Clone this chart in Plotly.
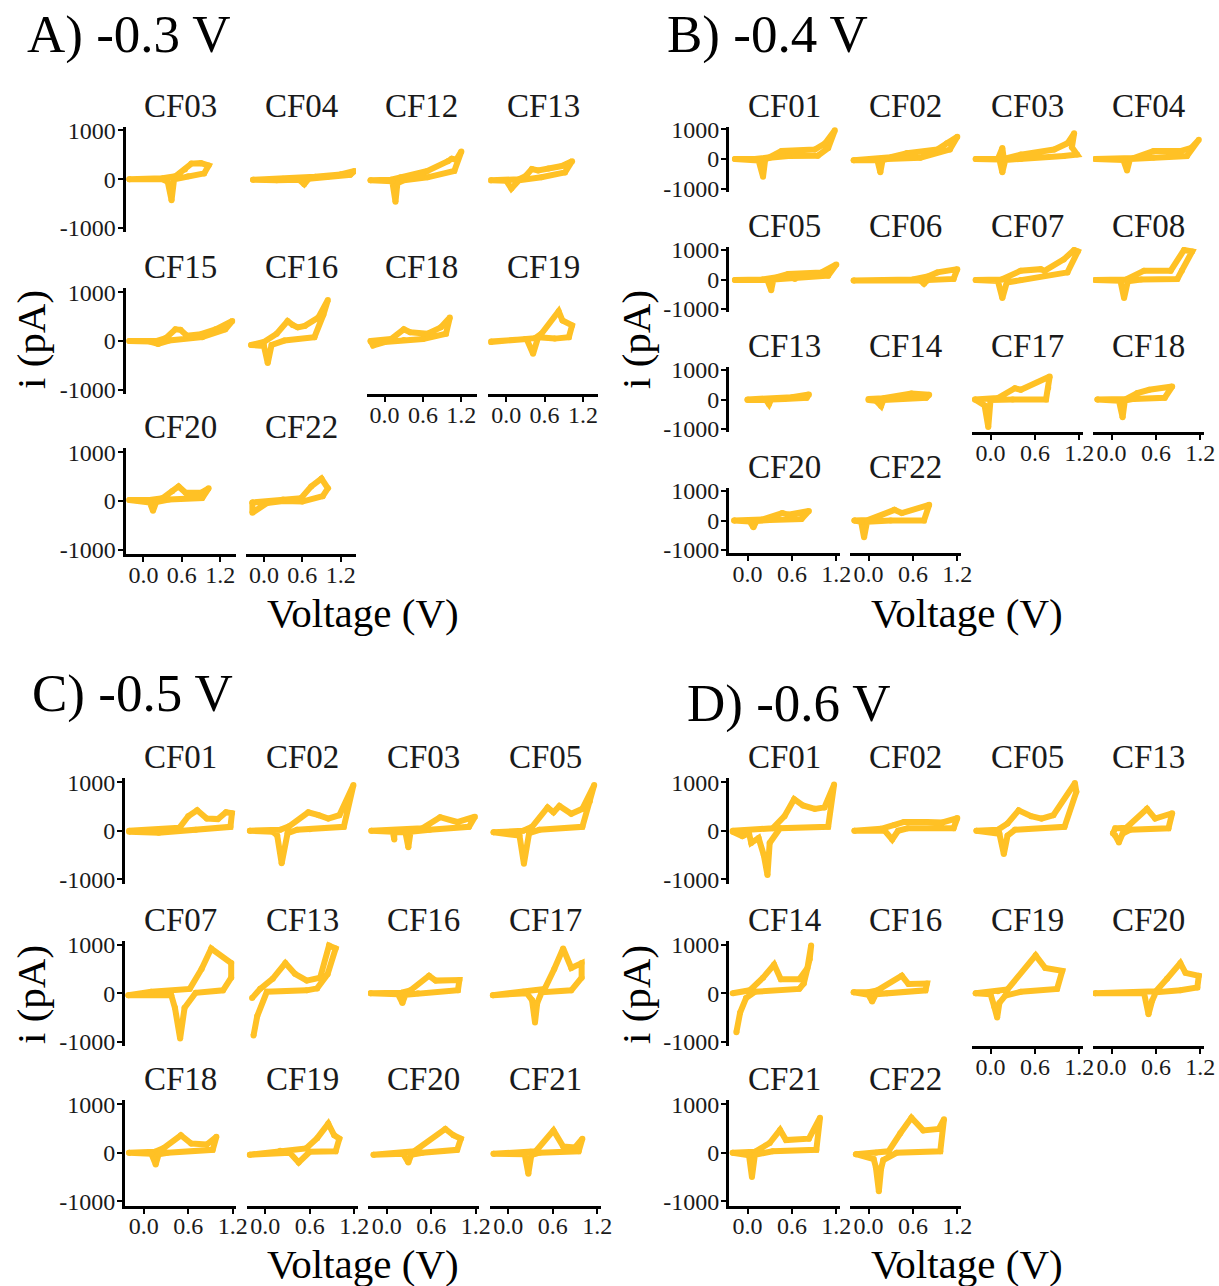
import plotly.graph_objects as go

W, H = 1219, 1286
COLOR = "#FFC125"
FONT = "Liberation Serif, Times New Roman, serif"

# ---------------- data (voltage in V, current in pA) ----------------
Y_TICKS = [-1000, 0, 1000]
Y_TICK_TEXT = ["-1000", "0", "1000"]
X_TICKS = [0.0, 0.6, 1.2]
X_TICK_TEXT = ["0.0", "0.6", "1.2"]

A_CELLS = ["CF03", "CF04", "CF12", "CF13", "CF15", "CF16", "CF18", "CF19", "CF20", "CF22"]
A_VOLT = {
    "CF03": [-0.22, 0.30, 0.50, 0.65, 0.75, 0.90, 1.02, 0.95, 0.70, 0.55, 0.48, 0.44, 0.38, 0.30, -0.22],
    "CF04": [-0.17, 0.30, 0.80, 1.20, 1.42, 1.35, 1.00, 0.70, 0.63, 0.55, 0.20, -0.17],
    "CF12": [-0.22, 0.10, 0.25, 0.67, 0.99, 1.05, 1.12, 1.20, 1.09, 0.67, 0.30, 0.20, 0.17, 0.12, -0.22],
    "CF13": [-0.24, 0.20, 0.30, 0.40, 0.50, 0.66, 0.87, 1.03, 0.92, 0.55, 0.20, 0.08, 0.00, -0.24],
    "CF15": [-0.22, 0.20, 0.35, 0.50, 0.58, 0.68, 0.90, 1.13, 1.39, 1.28, 0.92, 0.40, 0.23, 0.10, -0.22],
    "CF16": [-0.20, 0.00, 0.20, 0.37, 0.45, 0.53, 0.64, 0.85, 1.00, 0.93, 0.79, 0.32, 0.12, 0.06, 0.00, -0.20],
    "CF18": [-0.22, 0.10, 0.30, 0.40, 0.67, 0.88, 1.02, 0.96, 0.60, 0.30, 0.00, -0.18, -0.22],
    "CF19": [-0.24, 0.30, 0.45, 0.55, 0.82, 0.88, 1.03, 0.98, 0.76, 0.50, 0.42, 0.32, -0.24],
    "CF20": [-0.22, 0.10, 0.30, 0.45, 0.55, 0.66, 0.90, 1.02, 0.92, 0.40, 0.20, 0.15, 0.10, -0.22],
    "CF22": [-0.18, 0.30, 0.58, 0.74, 0.90, 1.00, 0.92, 0.60, 0.30, 0.05, -0.18, -0.18],
}
A_CURR = {
    "CF03": [0, 20, 60, 200, 320, 330, 280, 120, 60, 40, 0, -430, -50, 0, 0],
    "CF04": [-10, 10, 50, 100, 170, 90, 50, 10, -100, -10, -20, -10],
    "CF12": [-20, -10, 40, 170, 370, 420, 400, 570, 170, 40, -20, -80, -460, -40, -20],
    "CF13": [-20, 0, 60, 210, 180, 220, 270, 370, 140, 40, -20, -190, -30, -20],
    "CF15": [0, 0, 60, 240, 230, 110, 140, 240, 410, 240, 80, 10, -60, -10, 0],
    "CF16": [-80, -20, 150, 410, 330, 280, 310, 480, 840, 540, 80, 10, -80, -450, -100, -80],
    "CF18": [0, 40, 240, 180, 150, 280, 480, 150, 40, 20, -20, -90, 0],
    "CF19": [-20, 40, 60, 150, 610, 420, 320, 80, 50, 80, -260, 40, -10],
    "CF20": [20, 20, 60, 200, 300, 170, 170, 260, 60, 30, -20, -200, -30, 20],
    "CF22": [-30, 30, 60, 300, 460, 260, 100, -10, 0, -40, -240, -30],
}

B_CELLS = ["CF01", "CF02", "CF03", "CF04", "CF05", "CF06", "CF07", "CF08",
           "CF13", "CF14", "CF17", "CF18", "CF20", "CF22"]
B_VOLT = {
    "CF01": [-0.17, 0.10, 0.30, 0.46, 0.91, 1.05, 1.18, 1.09, 0.95, 0.55, 0.30, 0.24, 0.21, 0.15, -0.17],
    "CF02": [-0.20, 0.30, 0.52, 0.93, 1.06, 1.20, 1.10, 0.70, 0.25, 0.19, 0.16, 0.12, -0.20],
    "CF03": [-0.20, 0.10, 0.16, 0.18, 0.41, 0.86, 1.04, 1.13, 1.10, 1.17, 0.99, 0.41, 0.20, 0.16, 0.12, -0.20],
    "CF04": [-0.22, 0.30, 0.57, 0.93, 1.08, 1.18, 1.02, 0.57, 0.25, 0.21, 0.16, -0.22],
    "CF05": [-0.17, 0.20, 0.40, 0.55, 1.00, 1.20, 1.09, 0.64, 0.35, 0.32, 0.27, -0.17],
    "CF06": [-0.20, 0.60, 0.80, 0.93, 1.20, 1.15, 0.80, 0.75, 0.70, -0.20],
    "CF07": [-0.20, 0.15, 0.41, 0.68, 0.73, 0.99, 1.13, 1.18, 1.04, 0.41, 0.22, 0.16, 0.10, -0.20],
    "CF08": [-0.22, 0.20, 0.44, 0.80, 0.98, 1.09, 0.95, 0.89, 0.40, 0.22, 0.17, 0.12, -0.22],
    "CF13": [0.00, 0.30, 0.60, 0.83, 0.80, 0.50, 0.32, 0.29, 0.25, 0.00],
    "CF14": [0.00, 0.20, 0.58, 0.82, 0.78, 0.40, 0.20, 0.17, 0.10, 0.00],
    "CF17": [-0.21, 0.10, 0.33, 0.41, 0.80, 0.78, 0.75, 0.30, 0.00, -0.03, -0.08, -0.21],
    "CF18": [-0.19, 0.20, 0.35, 0.51, 0.82, 0.72, 0.30, 0.18, 0.15, 0.10, -0.19],
    "CF20": [-0.18, 0.20, 0.47, 0.55, 0.83, 0.73, 0.30, 0.12, 0.08, 0.03, -0.18],
    "CF22": [-0.19, 0.00, 0.35, 0.45, 0.82, 0.75, 0.30, -0.02, -0.06, -0.10, -0.19],
}
B_CURR = {
    "CF01": [0, 0, 60, 270, 320, 530, 970, 370, 110, 100, 40, 0, -600, -50, 0],
    "CF02": [-40, 60, 200, 320, 530, 750, 320, 40, 0, -40, -450, -40, -40],
    "CF03": [0, 0, 370, 0, 150, 320, 530, 870, 400, 150, 100, 0, -30, -450, -20, 0],
    "CF04": [0, 30, 270, 270, 380, 650, 100, 50, 0, -390, -30, 0],
    "CF05": [-20, 0, 80, 190, 240, 510, 130, 20, 0, -360, -20, -20],
    "CF06": [-30, 0, 100, 240, 350, 20, -20, -140, -30, -30],
    "CF07": [-20, 0, 300, 350, 290, 680, 1000, 950, 240, -20, -100, -630, -50, -20],
    "CF08": [-20, 0, 300, 300, 1000, 950, 300, 20, 0, -60, -630, -40, -20],
    "CF13": [0, 20, 80, 170, 60, 20, 0, -160, -20, -20],
    "CF14": [20, 40, 200, 160, 60, 30, -20, -220, -40, -20],
    "CF17": [0, 50, 380, 330, 780, 400, 0, 0, -20, -930, -200, 0],
    "CF18": [0, 20, 220, 330, 440, 60, 20, -40, -600, -40, 0],
    "CF20": [0, 30, 250, 200, 320, 50, 20, -20, -230, -30, 0],
    "CF22": [0, 20, 360, 250, 530, 0, 0, -40, -570, -40, 0],
}

C_CELLS = ["CF01", "CF02", "CF03", "CF05", "CF07", "CF13", "CF16", "CF17",
           "CF18", "CF19", "CF20", "CF21"]
C_VOLT = {
    "CF01": [-0.20, 0.20, 0.48, 0.60, 0.72, 0.85, 1.00, 1.11, 1.19, 1.17, 0.70, 0.20, -0.20],
    "CF02": [-0.21, 0.20, 0.32, 0.58, 0.72, 0.85, 1.00, 1.19, 1.06, 0.60, 0.43, 0.30, 0.22, 0.16, 0.10, -0.21],
    "CF03": [-0.21, 0.30, 0.48, 0.72, 0.95, 1.19, 1.11, 0.58, 0.32, 0.29, 0.25, 0.10, 0.10, 0.08, -0.21],
    "CF05": [-0.20, 0.20, 0.32, 0.53, 0.61, 0.69, 0.85, 1.00, 1.16, 1.10, 1.00, 0.42, 0.28, 0.21, 0.15, -0.20],
    "CF07": [-0.21, 0.10, 0.62, 0.78, 0.91, 1.18, 1.18, 1.07, 0.70, 0.55, 0.49, 0.42, 0.37, -0.21],
    "CF13": [-0.18, -0.07, 0.10, 0.27, 0.40, 0.56, 0.74, 0.86, 0.95, 0.84, 0.70, 0.56, 0.02, -0.11, -0.16],
    "CF16": [-0.22, 0.20, 0.32, 0.57, 0.66, 0.98, 0.96, 0.42, 0.25, 0.21, 0.15, -0.22],
    "CF17": [-0.21, 0.20, 0.49, 0.62, 0.74, 0.85, 0.99, 0.99, 0.85, 0.45, 0.39, 0.36, 0.32, 0.25, -0.21],
    "CF18": [-0.20, 0.15, 0.27, 0.50, 0.64, 0.85, 0.98, 0.93, 0.32, 0.20, 0.16, 0.10, -0.20],
    "CF19": [-0.21, 0.20, 0.55, 0.70, 0.85, 0.93, 1.00, 0.95, 0.60, 0.45, 0.33, -0.21],
    "CF20": [-0.18, 0.30, 0.37, 0.79, 0.90, 1.00, 0.95, 0.48, 0.33, 0.29, 0.22, -0.18],
    "CF21": [-0.20, 0.30, 0.37, 0.61, 0.74, 0.90, 1.00, 0.95, 0.42, 0.31, 0.27, 0.22, -0.20],
}
C_CURR = {
    "CF01": [0, 20, 60, 300, 420, 250, 240, 380, 360, 80, 20, -40, -20],
    "CF02": [0, 20, 90, 380, 320, 250, 320, 940, 80, 30, 20, -50, -670, -100, -20, 0],
    "CF03": [0, 20, 50, 280, 180, 290, 80, 20, -20, -340, -30, -30, -180, -20, 0],
    "CF05": [-30, 0, 80, 480, 380, 510, 350, 450, 940, 600, 80, 20, -50, -680, -100, -30],
    "CF07": [-40, 30, 90, 500, 920, 620, 320, 60, 10, -300, -930, -300, -40, -40],
    "CF13": [-100, 90, 300, 620, 400, 260, 320, 980, 920, 390, 100, 60, 30, -470, -870],
    "CF16": [0, 10, 60, 360, 260, 270, 60, 0, -30, -200, -20, 0],
    "CF17": [-40, 30, 90, 500, 920, 520, 620, 320, 60, 20, -200, -600, -140, 0, -40],
    "CF18": [0, 20, 100, 360, 190, 170, 330, 60, 0, -30, -240, -20, 0],
    "CF19": [-40, 40, 90, 300, 600, 360, 290, 30, 20, -200, 0, -40],
    "CF20": [-40, 0, 30, 490, 360, 290, 60, 0, -40, -200, -20, -40],
    "CF21": [-20, 20, 30, 460, 130, 110, 290, 30, 0, -50, -430, -30, -20],
}

D_CELLS = ["CF01", "CF02", "CF05", "CF13", "CF14", "CF16", "CF19", "CF20", "CF21", "CF22"]
D_VOLT = {
    "CF01": [-0.20, 0.34, 0.50, 0.63, 0.75, 0.91, 1.04, 1.17, 1.09, 0.44, 0.30, 0.27, 0.22, 0.15, 0.05, 0.02, -0.07, -0.20],
    "CF02": [-0.19, 0.17, 0.35, 0.48, 0.79, 1.00, 1.20, 1.15, 0.53, 0.40, 0.32, 0.22, -0.19],
    "CF05": [-0.19, 0.10, 0.23, 0.38, 0.55, 0.69, 0.85, 1.14, 1.16, 1.00, 0.33, 0.23, 0.18, 0.12, -0.19],
    "CF13": [0.02, 0.05, 0.20, 0.48, 0.59, 0.82, 0.77, 0.25, 0.15, 0.10, 0.05, 0.02],
    "CF14": [-0.20, 0.03, 0.21, 0.36, 0.45, 0.70, 0.81, 0.86, 0.84, 0.76, 0.70, 0.10, -0.02, -0.10, -0.15],
    "CF16": [-0.20, 0.00, 0.12, 0.45, 0.54, 0.79, 0.77, 0.25, 0.10, 0.05, 0.00, -0.20],
    "CF19": [-0.20, 0.10, 0.23, 0.61, 0.74, 0.97, 0.90, 0.41, 0.20, 0.12, 0.09, 0.05, 0.00, -0.20],
    "CF20": [-0.22, 0.60, 0.75, 0.93, 1.00, 1.18, 1.16, 0.93, 0.60, 0.55, 0.50, 0.44, -0.22],
    "CF21": [-0.20, 0.10, 0.30, 0.44, 0.52, 0.83, 0.98, 0.93, 0.34, 0.10, 0.06, 0.02, -0.20],
    "CF22": [-0.17, 0.10, 0.27, 0.43, 0.58, 0.74, 0.95, 1.02, 0.97, 0.38, 0.20, 0.17, 0.14, 0.10, 0.07, -0.17],
}
D_CURR = {
    "CF01": [0, 50, 300, 650, 520, 450, 480, 950, 80, 50, -250, -910, -500, -150, -250, -50, -110, -20],
    "CF02": [0, 40, 120, 180, 180, 170, 260, 50, 50, 0, -180, 0, 0],
    "CF05": [0, 20, 150, 420, 300, 250, 320, 980, 800, 80, 20, -100, -480, -60, 0],
    "CF13": [-50, 50, 60, 450, 250, 360, 50, 20, -60, -240, -100, -50],
    "CF14": [0, 60, 320, 590, 290, 290, 520, 980, 700, 200, 90, 30, -100, -400, -800],
    "CF16": [20, 20, 60, 360, 190, 200, 60, 0, -20, -170, -30, 20],
    "CF19": [0, 40, 80, 780, 520, 460, 90, 30, -50, -200, -500, -270, -20, 0],
    "CF20": [0, 40, 300, 620, 420, 360, 120, 60, 20, -150, -430, 0, 0],
    "CF21": [0, 20, 200, 470, 260, 290, 720, 60, 30, -40, -500, -50, 0],
    "CF22": [-30, 0, 30, 400, 720, 460, 490, 690, 30, 0, -150, -330, -790, -300, -130, -30],
}

PANEL_TITLES = ["A) -0.3 V", "B) -0.4 V", "C) -0.5 V", "D) -0.6 V"]
X_TITLE = "Voltage (V)"
Y_TITLE = "i (pA)"

# ---------------- layout geometry (pixels) ----------------
PANELS = [
    dict(cells=A_CELLS, volt=A_VOLT, curr=A_CURR, title=PANEL_TITLES[0],
         cols=[125.5, 246, 366.7, 488.3], w=110, rows=[126.5, 288.3, 448.3], h=105.5,
         xr=[-0.28, 1.44], yr=1080, title_xy=(25, 35), xt_xy=(363, 613), yt_xy=(31, 340)),
    dict(cells=B_CELLS, volt=B_VOLT, curr=B_CURR, title=PANEL_TITLES[1],
         cols=[729, 850, 972, 1093], w=111, rows=[126.5, 247, 367, 488], h=65,
         xr=[-0.25, 1.25], yr=1100, title_xy=(665, 35), xt_xy=(967, 613), yt_xy=(636, 340)),
    dict(cells=C_CELLS, volt=C_VOLT, curr=C_CURR, title=PANEL_TITLES[2],
         cols=[125, 246.5, 368, 489.5], w=111, rows=[778, 940.5, 1100], h=105.5,
         xr=[-0.255, 1.245], yr=1085, title_xy=(30, 693), xt_xy=(363, 1264), yt_xy=(31, 995)),
    dict(cells=D_CELLS, volt=D_VOLT, curr=D_CURR, title=PANEL_TITLES[3],
         cols=[729, 850, 972, 1093], w=111, rows=[778, 940.5, 1100], h=105.5,
         xr=[-0.25, 1.25], yr=1085, title_xy=(685, 703), xt_xy=(967, 1264), yt_xy=(636, 995)),
]


def px(x):
    return x / W


def py(y):
    return 1 - y / H


fig = go.Figure()
layout = {}
annotations = []
k = 0
AX_STYLE = dict(showgrid=False, zeroline=False, linecolor="black", linewidth=3,
                tickcolor="black", tickwidth=2, ticklen=5, fixedrange=True,
                tickfont=dict(family=FONT, size=24, color="#1a1a1a"), tickangle=0)

for P in PANELS:
    n = len(P["cells"])
    for idx, cell in enumerate(P["cells"]):
        k += 1
        r, c = divmod(idx, 4)
        x0 = P["cols"][c]
        y0 = P["rows"][r]
        bottom = idx + 4 >= n
        left = c == 0
        xa = "xaxis" if k == 1 else f"xaxis{k}"
        ya = "yaxis" if k == 1 else f"yaxis{k}"
        xs = "x" if k == 1 else f"x{k}"
        ys = "y" if k == 1 else f"y{k}"
        xd = dict(AX_STYLE, domain=[px(x0), px(x0 + P["w"])], range=P["xr"], anchor=ys,
                  showline=bottom, ticks="outside" if bottom else "",
                  showticklabels=bottom, tickvals=X_TICKS, ticktext=X_TICK_TEXT,
                  ticklabelstandoff=-8)
        yd = dict(AX_STYLE, domain=[py(y0 + P["h"]), py(y0)], range=[-P["yr"], P["yr"]], anchor=xs,
                  showline=left, ticks="outside" if left else "",
                  showticklabels=left, tickvals=Y_TICKS, ticktext=Y_TICK_TEXT,
                  ticklabelstandoff=-3)
        layout[xa] = xd
        layout[ya] = yd
        fig.add_trace(go.Scatter(
            x=P["volt"][cell], y=P["curr"][cell], xaxis=xs, yaxis=ys,
            mode="lines+markers", line=dict(color=COLOR, width=6),
            marker=dict(color=COLOR, size=6), showlegend=False, hoverinfo="skip"))
        annotations.append(dict(
            text=cell, x=px(x0 + P["w"] / 2), y=py(y0 - 21), xref="paper", yref="paper",
            xanchor="center", yanchor="middle", showarrow=False,
            font=dict(family=FONT, size=33, color="#1a1a1a")))
    tx, ty = P["title_xy"]
    annotations.append(dict(text=P["title"], x=px(tx), y=py(ty), xref="paper", yref="paper",
                            xanchor="left", yanchor="middle", showarrow=False,
                            font=dict(family=FONT, size=53, color="black")))
    ax_, ay_ = P["xt_xy"]
    annotations.append(dict(text=X_TITLE, x=px(ax_), y=py(ay_), xref="paper", yref="paper",
                            xanchor="center", yanchor="middle", showarrow=False,
                            font=dict(family=FONT, size=41, color="black")))
    bx_, by_ = P["yt_xy"]
    annotations.append(dict(text=Y_TITLE, x=px(bx_), y=py(by_), xref="paper", yref="paper",
                            xanchor="center", yanchor="middle", showarrow=False, textangle=-90,
                            font=dict(family=FONT, size=41, color="black")))

fig.update_layout(width=W, height=H, margin=dict(l=0, r=0, t=0, b=0, autoexpand=False),
                  paper_bgcolor="white", plot_bgcolor="white",
                  annotations=annotations, **layout)
fig.write_html("out.html")
